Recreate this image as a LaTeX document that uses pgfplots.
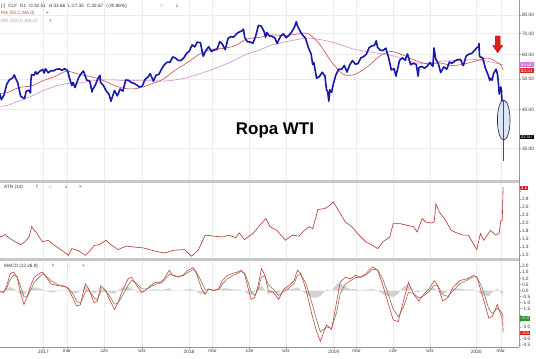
\documentclass[border=0pt]{standalone}
\usepackage{fontspec}
\setmainfont{Liberation Sans}
\newfontfamily\dejavu{DejaVu Sans}
\usepackage{pgfplots}
\pgfplotsset{compat=1.18}
\definecolor{pblue}{RGB}{24,24,170}
\definecolor{ma50}{RGB}{200,80,80}
\definecolor{ma200}{RGB}{205,140,210}
\definecolor{atrc}{RGB}{175,50,50}
\definecolor{macdr}{RGB}{205,60,60}
\definecolor{macds}{RGB}{125,125,85}
\definecolor{gridc}{RGB}{236,236,236}
\definecolor{sepc}{RGB}{200,200,200}
\definecolor{axc}{RGB}{150,150,150}
\definecolor{lblc}{RGB}{60,60,60}
\definecolor{boxpink}{RGB}{205,110,215}
\definecolor{boxred}{RGB}{225,30,30}
\definecolor{boxgreen}{RGB}{40,150,40}
\definecolor{ellfill}{RGB}{220,230,245}
\definecolor{elldraw}{RGB}{40,55,100}
\newcommand{\tfont}{\fontsize{4.8}{5}\selectfont}
\newcommand{\hfont}{\fontsize{4.7}{5}\selectfont}
\pgfplotsset{
  panel/.style={
    scale only axis, width=519bp,
    xmin=2016.699, xmax=2020.296,
    axis line style={draw=none},
    xtick={2017,2017.163,2017.422,2017.684,2018.009,2018.172,2018.429,2018.682,2019.012,2019.170,2019.424,2019.680,2020,2020.170},
    xmajorgrids, major grid style={gridc, line width=0.5bp},
    ytick pos=right, yticklabel pos=right,
    tick align=outside, major tick length=2bp,
    ytick style={axc, line width=0.4bp},
    xtick style={draw=none},
    yticklabel style={font=\tfont, text=lblc, inner sep=0.8bp},
    xticklabels={},
  },
}
\begin{document}
\begin{tikzpicture}
\useasboundingbox (0,0) rectangle (536bp,359bp);
\fill[white] (0,0) rectangle (536bp,359bp);
\fill[sepc] (0,176bp) rectangle (519bp,179bp);
\fill[sepc] (0,98bp) rectangle (519bp,101bp);
% ---------------- price panel
\begin{axis}[panel, at={(0,179bp)}, anchor=south west, height=180bp,
  ymode=log, ymin=23.82, ymax=89.5, yminorticks=false,
  ytick={30,40,50,60,70,80}, yticklabels={30.00,40.00,50.00,60.00,70.00,80.00},
  ymajorgrids]
\addplot[ma200, line width=0.6bp, smooth] coordinates {(2016.699,41.0)(2016.75,41.2)(2016.83,42.6)(2016.92,44.2)(2017.0,46.0)(2017.08,47.4)(2017.16,48.4)(2017.25,48.6)(2017.33,49.3)(2017.41,49.7)(2017.5,49.7)(2017.58,49.4)(2017.66,49.6)(2017.75,49.4)(2017.83,49.3)(2017.91,49.7)(2018.0,50.6)(2018.08,52.0)(2018.16,53.5)(2018.25,55.5)(2018.33,57.7)(2018.41,60.1)(2018.5,62.0)(2018.58,64.2)(2018.66,65.5)(2018.75,66.8)(2018.83,67.6)(2018.91,67.0)(2019.0,65.6)(2019.08,63.9)(2019.16,62.2)(2019.25,61.2)(2019.33,60.4)(2019.41,59.6)(2019.5,57.9)(2019.58,56.4)(2019.66,56.2)(2019.75,57.0)(2019.83,57.3)(2019.91,57.5)(2020.0,57.7)(2020.08,57.0)(2020.16,55.9)(2020.186,55.6)};
\addplot[ma50, line width=0.6bp, smooth] coordinates {(2016.699,45.0)(2016.75,45.3)(2016.83,47.0)(2016.92,47.6)(2017.0,49.5)(2017.08,51.0)(2017.16,53.0)(2017.25,51.8)(2017.33,50.9)(2017.41,49.6)(2017.5,47.6)(2017.58,46.6)(2017.66,46.8)(2017.75,48.3)(2017.83,50.0)(2017.91,53.3)(2018.0,56.6)(2018.08,60.0)(2018.16,62.2)(2018.25,62.7)(2018.33,64.0)(2018.41,67.2)(2018.5,68.0)(2018.58,69.2)(2018.66,69.0)(2018.75,69.5)(2018.83,70.0)(2018.91,65.0)(2019.0,56.5)(2019.08,51.8)(2019.16,51.8)(2019.25,55.0)(2019.33,59.2)(2019.41,61.3)(2019.5,59.5)(2019.58,57.3)(2019.66,56.0)(2019.75,56.3)(2019.83,55.3)(2019.91,55.8)(2020.0,57.2)(2020.08,58.4)(2020.16,56.0)(2020.186,53.5)};
\addplot[pblue, line width=1.6bp, line join=round] coordinates {
(2016.699,44.9)(2016.708,43.0)(2016.727,44.5)(2016.746,48.2)(2016.765,49.8)(2016.784,50.3)(2016.798,51.6)(2016.803,50.8)(2016.822,48.7)(2016.842,44.1)(2016.869,43.3)(2016.880,45.7)(2016.899,46.1)(2016.910,45.2)(2016.913,49.4)(2016.918,51.7)(2016.937,51.5)(2016.945,52.8)(2016.956,51.9)(2016.975,53.0)(2016.995,53.7)
(2017.005,52.3)(2017.014,54.0)(2017.033,52.4)(2017.052,53.2)(2017.071,53.2)(2017.090,53.8)(2017.110,53.9)(2017.129,53.4)(2017.148,54.0)(2017.167,53.3)(2017.181,50.3)(2017.197,47.7)(2017.205,48.8)(2017.219,47.0)(2017.244,50.6)(2017.263,52.2)(2017.277,53.1)(2017.301,49.6)(2017.321,49.3)(2017.337,45.5)(2017.340,46.2)(2017.359,47.8)(2017.378,50.3)(2017.392,51.4)(2017.395,48.9)(2017.416,47.7)(2017.436,45.8)(2017.455,44.7)(2017.468,42.5)(2017.493,46.0)(2017.512,44.2)(2017.532,46.5)(2017.551,45.8)(2017.570,49.7)(2017.589,49.6)(2017.608,48.8)(2017.627,48.5)(2017.647,47.9)(2017.663,47.2)(2017.685,47.5)(2017.704,49.9)(2017.723,50.7)(2017.740,52.1)(2017.762,49.3)(2017.781,51.5)(2017.800,51.8)(2017.819,53.9)(2017.838,55.6)(2017.858,56.7)(2017.877,56.6)(2017.896,58.9)(2017.915,58.4)(2017.934,57.4)(2017.953,57.3)(2017.973,58.5)(2017.992,60.4)
(2018.011,61.4)(2018.030,64.3)(2018.049,63.4)(2018.066,65.6)(2018.088,65.4)(2018.107,59.2)(2018.126,61.7)(2018.145,63.5)(2018.164,61.3)(2018.184,62.0)(2018.203,62.3)(2018.222,65.9)(2018.238,64.9)(2018.260,62.1)(2018.279,67.4)(2018.299,68.4)(2018.318,68.1)(2018.337,69.7)(2018.356,70.7)(2018.375,71.3)(2018.386,72.2)(2018.395,67.9)(2018.414,65.8)(2018.433,65.7)(2018.452,65.1)(2018.471,68.6)(2018.490,74.2)(2018.501,74.1)(2018.510,73.8)(2018.529,71.0)(2018.540,68.1)(2018.548,70.5)(2018.567,68.7)(2018.586,68.5)(2018.605,67.6)(2018.619,65.0)(2018.625,65.9)(2018.644,68.7)(2018.663,69.8)(2018.682,67.8)(2018.701,69.0)(2018.721,70.8)(2018.740,73.3)(2018.753,76.4)(2018.759,74.3)(2018.778,71.3)(2018.797,69.1)(2018.816,67.6)(2018.836,63.1)(2018.855,60.2)(2018.866,55.7)(2018.874,56.5)(2018.893,50.4)(2018.912,50.9)(2018.932,52.6)(2018.951,51.2)(2018.962,46.2)(2018.970,45.6)(2018.978,42.5)(2018.984,46.2)(2018.997,45.4)
(2019.008,48.0)(2019.027,51.6)(2019.047,53.8)(2019.066,53.7)(2019.085,55.3)(2019.104,52.7)(2019.123,55.6)(2019.142,57.3)(2019.162,55.8)(2019.181,56.1)(2019.200,58.5)(2019.219,59.0)(2019.238,60.1)(2019.258,63.1)(2019.277,63.9)(2019.293,64.0)(2019.307,66.3)(2019.315,63.3)(2019.334,61.9)(2019.353,61.7)(2019.373,62.8)(2019.392,58.6)(2019.411,53.5)(2019.430,54.0)(2019.444,51.1)(2019.449,52.5)(2019.468,57.4)(2019.488,58.5)(2019.507,57.5)(2019.523,60.2)(2019.545,55.6)(2019.564,56.2)(2019.584,55.7)(2019.597,51.1)(2019.603,54.5)(2019.622,54.9)(2019.641,54.2)(2019.660,55.1)(2019.679,56.5)(2019.699,54.9)(2019.707,62.9)(2019.718,58.1)(2019.737,56.0)(2019.753,52.5)(2019.775,54.7)(2019.795,53.8)(2019.814,56.7)(2019.833,56.2)(2019.852,57.2)(2019.871,57.7)(2019.890,57.8)(2019.910,55.2)(2019.929,59.2)(2019.948,60.1)(2019.967,60.4)(2019.986,61.7)
(2020.005,63.1)(2020.014,63.3)(2020.019,65.0)(2020.022,59.6)(2020.025,59.0)(2020.044,58.5)(2020.063,54.2)(2020.082,51.6)(2020.093,49.6)(2020.101,50.3)(2020.109,49.6)(2020.120,52.1)(2020.137,53.8)(2020.140,53.4)(2020.148,51.4)(2020.153,48.7)(2020.159,44.8)(2020.170,47.2)(2020.175,45.9)(2020.178,41.3)(2020.186,42.9)};
\draw[elldraw, fill=ellfill, line width=0.7bp] (axis cs:2020.190,37.0) ellipse [x radius=6.3bp, y radius=20bp];
\addplot[gray!60!black, line width=0.6bp] coordinates {(2020.186,42.9)(2020.186,27.35)};
\end{axis}
% ---------------- ATR panel
\begin{axis}[panel, at={(0,101bp)}, anchor=south west, height=75bp,
  ymin=0.916, ymax=3.259,
  ytick={1,1.25,1.5,1.75,2,2.25,2.5,2.75,3}, yticklabels={1.0,1.3,1.5,1.8,2.0,2.3,2.5,2.8,{}}]
\addplot[atrc, line width=0.6bp] coordinates {
(2016.699,1.60)(2016.706,1.57)(2016.735,1.65)(2016.760,1.55)(2016.806,1.42)(2016.841,1.34)(2016.860,1.38)(2016.877,1.45)(2016.900,1.57)(2016.919,1.90)(2016.936,1.78)(2016.950,1.72)(2016.971,1.57)(2016.995,1.42)(2017.031,1.47)(2017.078,1.31)(2017.125,1.16)(2017.173,1.00)(2017.197,1.21)(2017.244,1.14)(2017.291,1.00)(2017.327,1.16)(2017.351,1.31)(2017.386,1.33)(2017.410,1.40)(2017.433,1.47)(2017.457,1.37)(2017.516,1.18)(2017.576,1.29)(2017.623,1.26)(2017.694,1.23)(2017.765,1.14)(2017.836,1.07)(2017.907,1.16)(2017.978,1.18)(2018.026,0.97)(2018.073,1.16)(2018.121,1.63)(2018.180,1.60)(2018.239,1.57)(2018.286,1.63)(2018.334,1.55)(2018.357,1.70)(2018.393,1.49)(2018.452,1.68)(2018.500,1.94)(2018.542,2.15)(2018.571,1.89)(2018.618,1.78)(2018.677,1.47)(2018.725,1.63)(2018.772,1.60)(2018.808,1.78)(2018.843,1.89)(2018.867,1.83)(2018.902,2.43)(2018.950,2.46)(2018.985,2.56)(2019.009,2.67)(2019.045,2.40)(2019.092,2.04)(2019.139,1.89)(2019.187,1.63)(2019.234,1.42)(2019.281,1.31)(2019.317,1.21)(2019.353,1.42)(2019.400,1.57)(2019.424,1.99)(2019.471,1.99)(2019.518,1.94)(2019.566,1.89)(2019.590,1.73)(2019.625,2.15)(2019.649,2.04)(2019.684,2.01)(2019.708,2.04)(2019.720,2.61)(2019.744,2.35)(2019.779,2.15)(2019.826,1.78)(2019.874,1.68)(2019.909,1.63)(2019.945,1.63)(2019.980,1.36)(2020.004,1.18)(2020.028,1.68)(2020.051,1.47)(2020.099,1.78)(2020.134,1.63)(2020.158,1.68)(2020.170,2.09)(2020.180,2.09)(2020.186,3.13)};
\end{axis}
% ---------------- MACD panel
\begin{axis}[panel, at={(0,12bp)}, anchor=south west, height=86bp,
  ymin=-4.669, ymax=2.438,
  ytick={-4.5,-4,-3.5,-3,-2.5,-2,-1.5,-1,-0.5,0,0.5,1,1.5,2},
  yticklabels={-4.5,-4.0,{},-3.0,{},{},-1.5,-1.0,-0.5,0.0,0.5,1.0,1.5,2.0},
  xtick pos=bottom, xtick style={draw=axc, line width=0.4bp},
  xticklabels={2017,mar,cze,wrz,2018,mar,cze,wrz,2019,mar,cze,wrz,2020,mar},
  xticklabel style={font=\tfont, text=lblc, inner sep=1bp}]
\addplot[fill=gray!35, draw=none] coordinates {
(2016.699,0)(2016.723,-0.02)(2016.746,0.13)(2016.770,0.29)(2016.794,0.15)(2016.817,-0.04)(2016.841,-0.32)(2016.865,-0.37)(2016.889,0.02)(2016.912,0.22)(2016.936,0.25)(2016.971,0.17)(2016.995,0.10)(2017.019,-0.06)(2017.054,-0.16)(2017.102,-0.05)(2017.149,-0.02)(2017.173,-0.05)(2017.208,-0.23)(2017.232,-0.23)(2017.256,-0.06)(2017.279,0.25)(2017.291,0.38)(2017.315,0.05)(2017.351,-0.25)(2017.374,-0.07)(2017.398,0.28)(2017.433,0.01)(2017.457,-0.17)(2017.493,-0.27)(2017.516,0.03)(2017.552,0.28)(2017.587,0.31)(2017.611,0.16)(2017.647,-0.11)(2017.682,-0.18)(2017.718,-0.01)(2017.741,0.07)(2017.777,0.10)(2017.813,0.04)(2017.836,0.08)(2017.872,0.20)(2017.895,-0.02)(2017.931,-0.04)(2017.967,0.02)(2018.002,0.11)(2018.038,0.10)(2018.061,-0.08)(2018.097,-0.34)(2018.121,-0.24)(2018.144,0.01)(2018.180,-0.03)(2018.215,0.02)(2018.239,0.18)(2018.275,0.17)(2018.310,0.10)(2018.346,0.07)(2018.369,0.06)(2018.393,-0.04)(2018.417,-0.29)(2018.440,-0.35)(2018.464,-0.11)(2018.488,0.19)(2018.511,0.41)(2018.535,0.03)(2018.559,-0.29)(2018.594,-0.15)(2018.630,-0.20)(2018.666,0.13)(2018.701,0.12)(2018.737,0.15)(2018.760,0.26)(2018.784,0.04)(2018.819,-0.29)(2018.855,-0.56)(2018.890,-0.60)(2018.919,-0.46)(2018.962,0.10)(2018.997,-0.04)(2019.033,0.54)(2019.056,0.59)(2019.092,0.34)(2019.127,0.10)(2019.163,0.11)(2019.199,0.01)(2019.234,0.07)(2019.281,0.12)(2019.317,-0.02)(2019.353,-0.31)(2019.388,-0.46)(2019.424,-0.53)(2019.459,-0.25)(2019.495,0.31)(2019.530,0.50)(2019.566,-0.04)(2019.601,-0.15)(2019.637,0.07)(2019.672,0.13)(2019.708,0.22)(2019.732,-0.01)(2019.767,-0.31)(2019.803,-0.06)(2019.838,0.18)(2019.886,0.16)(2019.933,0.07)(2019.980,0.07)(2020.004,-0.01)(2020.040,-0.34)(2020.087,-0.46)(2020.111,-0.15)(2020.146,0.18)(2020.170,-0.16)(2020.182,-0.29)(2020.186,-0.69)(2020.186,0)} -- cycle;
\addplot[macds, line width=0.6bp] coordinates {
(2016.699,-0.08)(2016.723,-0.13)(2016.746,0.19)(2016.770,0.91)(2016.794,1.28)(2016.817,1.17)(2016.841,0.37)(2016.865,-0.55)(2016.889,-0.49)(2016.912,0.04)(2016.936,0.68)(2016.971,1.11)(2016.995,1.36)(2017.019,1.20)(2017.054,0.80)(2017.102,0.48)(2017.149,0.35)(2017.173,0.21)(2017.208,-0.35)(2017.232,-0.92)(2017.256,-1.06)(2017.279,-0.44)(2017.291,-0.10)(2017.315,0.03)(2017.351,-0.59)(2017.374,-0.76)(2017.398,-0.06)(2017.433,-0.04)(2017.457,-0.45)(2017.493,-1.13)(2017.516,-1.06)(2017.552,-0.35)(2017.587,0.44)(2017.611,0.84)(2017.647,0.58)(2017.682,0.14)(2017.718,0.13)(2017.741,0.29)(2017.777,0.52)(2017.813,0.62)(2017.836,0.82)(2017.872,1.33)(2017.895,1.28)(2017.931,1.17)(2017.967,1.22)(2018.002,1.49)(2018.038,1.74)(2018.061,1.53)(2018.097,0.68)(2018.121,0.09)(2018.144,0.11)(2018.180,0.03)(2018.215,0.08)(2018.239,0.52)(2018.275,0.96)(2018.310,1.22)(2018.346,1.41)(2018.369,1.57)(2018.393,1.46)(2018.417,0.74)(2018.440,-0.14)(2018.464,-0.41)(2018.488,0.08)(2018.511,1.12)(2018.535,1.20)(2018.559,0.47)(2018.594,0.09)(2018.630,-0.40)(2018.666,-0.09)(2018.701,0.20)(2018.737,0.57)(2018.760,1.23)(2018.784,1.33)(2018.819,0.60)(2018.855,-0.79)(2018.890,-2.28)(2018.919,-3.43)(2018.962,-3.02)(2018.997,-3.13)(2019.033,-1.77)(2019.056,-0.30)(2019.092,0.54)(2019.127,0.79)(2019.163,1.07)(2019.199,1.09)(2019.234,1.27)(2019.281,1.75)(2019.317,1.70)(2019.353,0.92)(2019.388,-0.24)(2019.424,-1.55)(2019.459,-2.16)(2019.495,-1.39)(2019.530,-0.15)(2019.566,-0.25)(2019.601,-0.62)(2019.637,-0.43)(2019.672,-0.10)(2019.708,0.45)(2019.732,0.42)(2019.767,-0.35)(2019.803,-0.49)(2019.838,-0.04)(2019.886,0.56)(2019.933,0.84)(2019.980,1.13)(2020.004,1.11)(2020.040,0.26)(2020.087,-1.53)(2020.111,-1.90)(2020.146,-1.46)(2020.170,-1.73)(2020.182,-1.94)(2020.186,-2.30)};
\addplot[macdr, line width=0.6bp] coordinates {
(2016.699,-0.08)(2016.723,-0.16)(2016.746,0.40)(2016.770,1.39)(2016.794,1.53)(2016.817,1.10)(2016.841,-0.16)(2016.865,-1.16)(2016.889,-0.45)(2016.912,0.40)(2016.936,1.10)(2016.971,1.39)(2016.995,1.53)(2017.019,1.10)(2017.054,0.54)(2017.102,0.40)(2017.149,0.32)(2017.173,0.12)(2017.208,-0.73)(2017.232,-1.30)(2017.256,-1.16)(2017.279,-0.02)(2017.291,0.54)(2017.315,0.12)(2017.351,-1.01)(2017.374,-0.87)(2017.398,0.40)(2017.433,-0.02)(2017.457,-0.73)(2017.493,-1.58)(2017.516,-1.01)(2017.552,0.12)(2017.587,0.96)(2017.611,1.10)(2017.647,0.40)(2017.682,-0.16)(2017.718,0.12)(2017.741,0.40)(2017.777,0.68)(2017.813,0.68)(2017.836,0.96)(2017.872,1.67)(2017.895,1.25)(2017.931,1.10)(2017.967,1.25)(2018.002,1.67)(2018.038,1.90)(2018.061,1.39)(2018.097,0.12)(2018.121,-0.31)(2018.144,0.12)(2018.180,-0.02)(2018.215,0.12)(2018.239,0.82)(2018.275,1.25)(2018.310,1.39)(2018.346,1.53)(2018.369,1.67)(2018.393,1.39)(2018.417,0.26)(2018.440,-0.73)(2018.464,-0.59)(2018.488,0.40)(2018.511,1.81)(2018.535,1.25)(2018.559,-0.02)(2018.594,-0.16)(2018.630,-0.73)(2018.666,0.12)(2018.701,0.40)(2018.737,0.82)(2018.760,1.67)(2018.784,1.39)(2018.819,0.12)(2018.855,-1.72)(2018.890,-3.28)(2018.919,-4.19)(2018.962,-2.85)(2018.997,-3.20)(2019.033,-0.87)(2019.056,0.68)(2019.092,1.10)(2019.127,0.96)(2019.163,1.25)(2019.199,1.10)(2019.234,1.39)(2019.281,1.95)(2019.317,1.67)(2019.353,0.40)(2019.388,-1.01)(2019.424,-2.43)(2019.459,-2.57)(2019.495,-0.87)(2019.530,0.68)(2019.566,-0.31)(2019.601,-0.87)(2019.637,-0.31)(2019.672,0.12)(2019.708,0.82)(2019.732,0.40)(2019.767,-0.87)(2019.803,-0.59)(2019.838,0.26)(2019.886,0.82)(2019.933,0.96)(2019.980,1.25)(2020.004,1.10)(2020.040,-0.31)(2020.087,-2.29)(2020.111,-2.15)(2020.146,-1.16)(2020.170,-2.00)(2020.182,-2.43)(2020.186,-3.45)};
\end{axis}
% axis lines
\draw[axc, line width=0.6bp] (519bp,12bp) -- (519bp,359bp);
\draw[axc, line width=0.6bp] (0,12bp) -- (519bp,12bp);
% value boxes
\tikzset{vbox/.style={anchor=west, font=\tfont, text=white, inner xsep=1bp, inner ysep=0.7bp}}
\node[vbox, fill=boxpink] at (519.5bp,294.3bp) {55.60};
\node[vbox, fill=boxred] at (519.5bp,288.6bp) {53.51};
\node[vbox, fill=black] at (519.5bp,222bp) {32.67};
\node[vbox, fill=boxred] at (519.5bp,170.9bp) {3.1};
\node[vbox, fill=boxgreen] at (519.5bp,40.7bp) {-2.3};
\node[vbox, fill=boxred] at (519.5bp,26.1bp) {-3.5};
% arrow
\filldraw[fill=boxred, draw=red!70!black, line width=0.4bp] (495.3bp,323bp) -- (500.1bp,323bp) -- (500.1bp,313.5bp) -- (502.7bp,313.5bp) -- (497.7bp,306.3bp) -- (492.7bp,313.5bp) -- (495.3bp,313.5bp) -- cycle;
% headers
\node[anchor=west, inner sep=0, font=\hfont, text=black!80] at (1bp,353bp) {[-]\hspace{3bp}CLF\hspace{3bp}D1\hspace{3bp}O:32.51\hspace{3bp}H:33.66\hspace{3bp}L:27.35\hspace{3bp}C:32.67\hspace{3bp}(-20.86\%)};
\node[anchor=west, inner sep=0, font=\hfont\dejavu, text=black!70] at (160bp,353bp) {::};
\node[anchor=west, inner sep=0, font=\hfont\dejavu, text=black!70] at (175bp,353bp) {↓};
\node[anchor=west, inner sep=0, font=\hfont, text=ma50] at (1bp,345.7bp) {MA (50,C,MA,0)};
\node[anchor=west, inner sep=0, font=\hfont, text=black!80] at (46bp,345.7bp) {×};
\node[anchor=west, inner sep=0, font=\hfont, text=ma200] at (1bp,338bp) {MA (200,C,MA,0)};
\node[anchor=west, inner sep=0, font=\hfont, text=black!80] at (49bp,338bp) {×};
\node[anchor=west, inner sep=0, font=\hfont, text=black!80] at (4bp,172bp) {ATR (14)};
\node[anchor=west, inner sep=0, font=\hfont\dejavu, text=black!70] at (35bp,172bp) {↑};
\node[anchor=west, inner sep=0, font=\hfont\dejavu, text=black!70] at (49bp,172bp) {::};
\node[anchor=west, inner sep=0, font=\hfont\dejavu, text=black!70] at (64bp,172bp) {↓};
\node[anchor=west, inner sep=0, font=\hfont, text=black!80] at (79bp,172bp) {×};
\node[anchor=west, inner sep=0, font=\hfont, text=black!80] at (4bp,93bp) {MACD (12,26,9)};
\node[anchor=west, inner sep=0, font=\hfont\dejavu, text=black!70] at (51bp,93bp) {↑};
\node[anchor=west, inner sep=0, font=\hfont\dejavu, text=black!70] at (67bp,93bp) {::};
\node[anchor=west, inner sep=0, font=\hfont, text=black!80] at (82bp,93bp) {×};
% title
\node[font=\fontsize{17}{20}\selectfont\bfseries, text=black] at (275bp,229bp) {Ropa WTI};
\end{tikzpicture}
\end{document}
